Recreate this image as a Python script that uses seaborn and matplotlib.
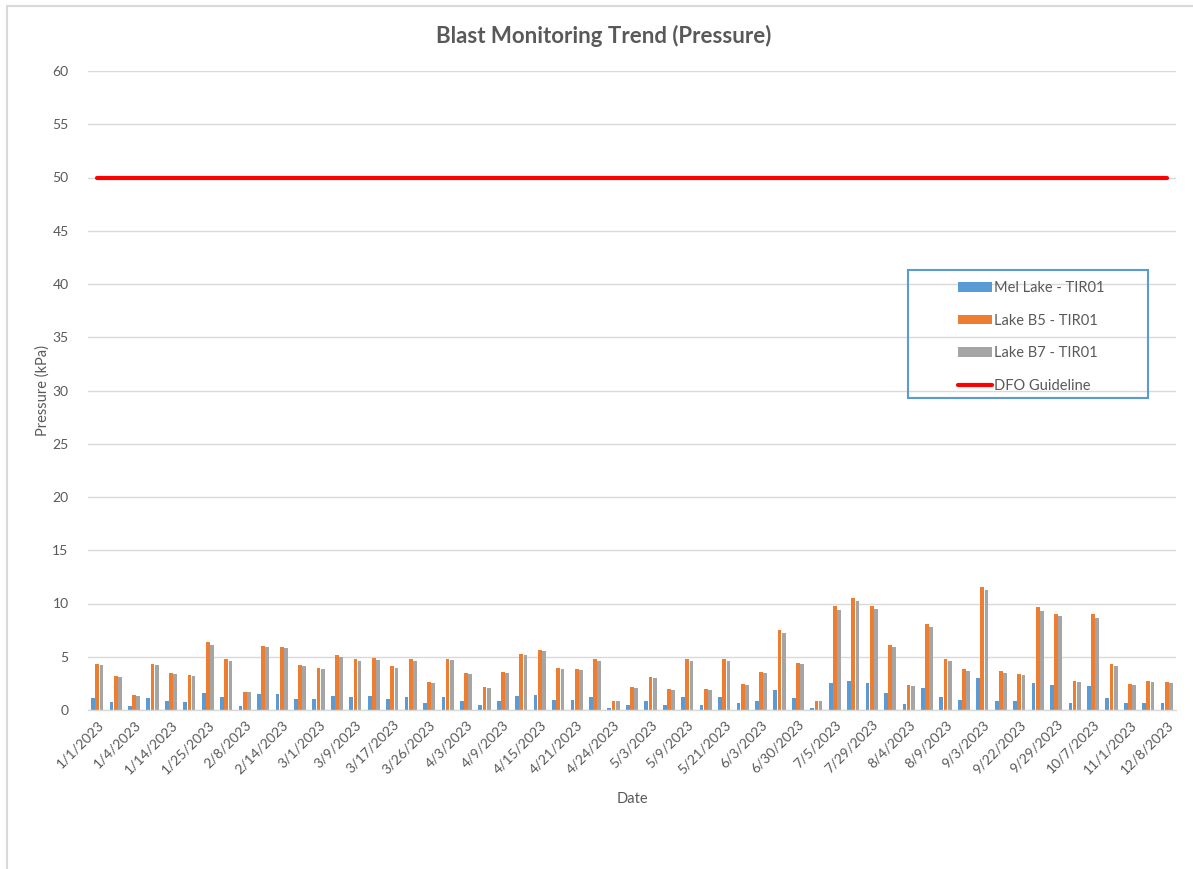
import numpy as np
import pandas as pd
import matplotlib
matplotlib.use("Agg")
import matplotlib.pyplot as plt
import seaborn as sns
from matplotlib.patches import Patch, Rectangle
from matplotlib.lines import Line2D

dates = ["1/1/2023", "1/2/2023", "1/4/2023", "1/10/2023", "1/14/2023", "1/20/2023",
         "1/25/2023", "2/1/2023", "2/8/2023", "2/11/2023", "2/14/2023", "2/22/2023",
         "3/1/2023", "3/5/2023", "3/9/2023", "3/13/2023", "3/17/2023", "3/22/2023",
         "3/26/2023", "3/30/2023", "4/3/2023", "4/6/2023", "4/9/2023", "4/12/2023",
         "4/15/2023", "4/18/2023", "4/21/2023", "4/23/2023", "4/24/2023", "4/28/2023",
         "5/3/2023", "5/6/2023", "5/9/2023", "5/15/2023", "5/21/2023", "5/27/2023",
         "6/3/2023", "6/15/2023", "6/30/2023", "7/2/2023", "7/5/2023", "7/18/2023",
         "7/29/2023", "8/1/2023", "8/4/2023", "8/7/2023", "8/9/2023", "8/22/2023",
         "9/3/2023", "9/15/2023", "9/22/2023", "9/25/2023", "9/29/2023", "10/3/2023",
         "10/7/2023", "10/20/2023", "11/1/2023", "11/20/2023", "12/8/2023"]

mel_lake = [1.10, 0.78, 0.34, 1.10, 0.88, 0.78, 1.63, 1.19, 0.41, 1.47, 1.47, 1.00,
            1.00, 1.34, 1.19, 1.28, 1.03, 1.19, 0.63, 1.19, 0.88, 0.50, 0.88, 1.34,
            1.41, 0.97, 0.97, 1.19, 0.16, 0.50, 0.81, 0.47, 1.19, 0.50, 1.19, 0.63,
            0.88, 1.88, 1.10, 0.16, 2.50, 2.72, 2.50, 1.56, 0.56, 2.03, 1.19, 0.94,
            2.97, 0.88, 0.88, 2.50, 2.31, 0.63, 2.25, 1.10, 0.63, 0.63, 0.63]

lake_b5 = [4.34, 3.19, 1.41, 4.34, 3.50, 3.25, 6.34, 4.75, 1.72, 6.03, 5.94, 4.19,
           3.97, 5.19, 4.75, 4.88, 4.09, 4.75, 2.63, 4.78, 3.50, 2.13, 3.56, 5.25,
           5.66, 3.94, 3.88, 4.75, 0.88, 2.13, 3.13, 1.94, 4.75, 1.94, 4.75, 2.41,
           3.56, 7.47, 4.41, 0.88, 9.72, 10.56, 9.81, 6.09, 2.31, 8.03, 4.75, 3.81,
           11.56, 3.63, 3.34, 9.63, 9.06, 2.72, 8.97, 4.28, 2.41, 2.72, 2.63]

lake_b7 = [4.19, 3.09, 1.34, 4.25, 3.40, 3.19, 6.13, 4.56, 1.72, 5.88, 5.78, 4.09,
           3.81, 5.00, 4.56, 4.72, 3.94, 4.56, 2.56, 4.66, 3.40, 2.03, 3.50, 5.13,
           5.50, 3.81, 3.72, 4.56, 0.88, 2.03, 3.03, 1.84, 4.56, 1.84, 4.56, 2.31,
           3.47, 7.25, 4.31, 0.88, 9.41, 10.25, 9.50, 5.94, 2.25, 7.81, 4.56, 3.63,
           11.28, 3.50, 3.25, 9.34, 8.78, 2.63, 8.66, 4.09, 2.31, 2.63, 2.56]

dfo_guideline = [50] * len(dates)

series_names = ["Mel Lake - TIR01", "Lake B5 - TIR01", "Lake B7 - TIR01"]
guideline_name = "DFO Guideline"
colors = ["#5B9BD5", "#ED7D31", "#A5A5A5"]
line_color = "#FF0000"
text_color = "#595959"

df = pd.DataFrame({
    "Date": dates * 3,
    "Pressure": mel_lake + lake_b5 + lake_b7,
    "Series": [series_names[0]] * len(dates) + [series_names[1]] * len(dates)
              + [series_names[2]] * len(dates),
})

sns.set_theme(style="white")
plt.rcParams["font.family"] = ["Lato", "DejaVu Sans"]

W, H = 1193, 869
fig = plt.figure(figsize=(W / 100, H / 100), dpi=100)
ax = fig.add_axes([88 / W, 1 - 710 / H, (1176 - 88) / W, (710 - 71) / H])

sns.barplot(data=df, x="Date", y="Pressure", hue="Series", order=dates,
            hue_order=series_names, palette=colors, width=0.68, gap=0.1,
            saturation=1, edgecolor="none", ax=ax, legend=False)

ax.plot(np.arange(len(dates)), dfo_guideline, color=line_color, lw=3, zorder=5)

ax.set_xlim(-0.5, len(dates) - 0.5)
ax.set_ylim(0, 60)
ax.set_yticks(np.arange(0, 61, 5))
ax.yaxis.grid(True, color="#D9D9D9", lw=1)
ax.set_axisbelow(True)
for s in ["top", "right", "left"]:
    ax.spines[s].set_visible(False)
ax.spines["bottom"].set_color("#D9D9D9")
ax.spines["bottom"].set_linewidth(1)
ax.tick_params(axis="both", length=0, colors=text_color, labelsize=10)
ax.tick_params(axis="y", pad=14)

xt = np.arange(0, len(dates), 2)
ax.set_xticks(xt)
ax.set_xticklabels([dates[i] for i in xt], rotation=45, ha="right",
                   rotation_mode="anchor", color=text_color, fontsize=10)
ax.tick_params(axis="x", pad=6)

ax.set_xlabel("Date", color=text_color, fontsize=10.5, labelpad=12)
ax.set_ylabel("Pressure (kPa)", color=text_color, fontsize=10.5, labelpad=2)

fig.text(604 / W, 1 - 36 / H, "Blast Monitoring Trend (Pressure)", ha="center",
         va="center", fontsize=16, fontweight="bold", color=text_color)

handles = [Patch(facecolor=c, edgecolor="none") for c in colors] + \
          [Line2D([0], [0], color=line_color, lw=3)]
labels = series_names + [guideline_name]
leg = fig.legend(handles, labels, loc="upper left",
                 bbox_to_anchor=(958 / W, 1 - 281 / H), frameon=False,
                 fontsize=10.5, handlelength=2.3, handleheight=0.65,
                 handletextpad=0.2, labelspacing=1.27, borderpad=0,
                 borderaxespad=0)
for t in leg.get_texts():
    t.set_color(text_color)

fig.patches.append(Rectangle((908 / W, 1 - 398 / H), 240 / W, 128 / H,
                             transform=fig.transFigure, fill=False,
                             edgecolor="#5B9BD5", lw=1.5))
fig.lines.append(Line2D([7 / W, 1], [1 - 5.5 / H, 1 - 5.5 / H],
                        transform=fig.transFigure, color="#D9D9D9", lw=1.5))
fig.lines.append(Line2D([7.5 / W, 7.5 / W], [0, 1 - 5.5 / H],
                        transform=fig.transFigure, color="#D9D9D9", lw=1.5))

fig.savefig("out.png", dpi=100, facecolor="white")
